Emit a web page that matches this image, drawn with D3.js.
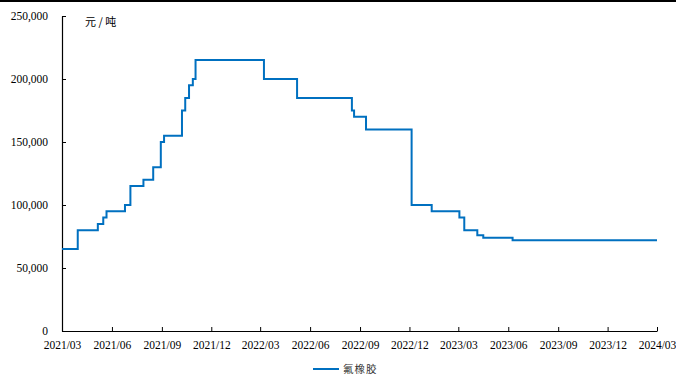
<!DOCTYPE html>
<html>
<head>
<meta charset="utf-8">
<script src="https://cdn.jsdelivr.net/npm/d3@7"></script>
<style>
  body { margin: 0; background: #fff; }
  svg { display: block; }
</style>
</head>
<body>
<svg id="chart" width="676" height="376"></svg>
<script>
// step dates where the price changes (yuan/ton)
const dates = [
  "2021-03-01", "2021-03-30", "2021-05-06", "2021-05-16", "2021-05-22",
  "2021-06-25", "2021-07-05", "2021-07-29", "2021-08-16", "2021-08-30",
  "2021-09-05", "2021-10-08", "2021-10-14", "2021-10-21", "2021-10-28",
  "2021-11-02", "2022-03-08", "2022-05-08", "2022-08-17", "2022-08-21",
  "2022-09-12", "2022-12-05", "2023-01-11", "2023-03-03", "2023-03-12",
  "2023-04-05", "2023-04-16", "2023-06-09", "2024-03-01"
]
const prices = [
  65000, 80000, 85000, 90000, 95000,
  100000, 115000, 120000, 130000, 150000,
  155000, 175000, 185000, 195000, 200000,
  215000, 200000, 185000, 175000, 170000,
  160000, 100000, 95000, 90000, 80000,
  76000, 74000, 72000, 72000
]
const xTicks = [
  "2021-03-01", "2021-06-01", "2021-09-01", "2021-12-01", "2022-03-01",
  "2022-06-01", "2022-09-01", "2022-12-01", "2023-03-01", "2023-06-01",
  "2023-09-01", "2023-12-01", "2024-03-01"
]
const yTicks = [0, 50000, 100000, 150000, 200000, 250000]
const seriesName = "氟橡胶"
const unitLabel = "元/吨"

const parse = d3.timeParse("%Y-%m-%d")
const data = dates.map((d, i) => ({date: parse(d), value: prices[i]}))

const svg = d3.select("#chart")
const serif = "'Liberation Serif', 'Times New Roman', serif"
const cjk = "'Noto Sans CJK SC', sans-serif"

// black rule across the top
svg.append("rect")
  .attr("x", 0).attr("y", 0)
  .attr("width", 676).attr("height", 2)
  .attr("fill", "#000")

const x = d3.scaleTime()
  .domain([parse("2021-03-01"), parse("2024-03-01")])
  .range([62, 657])

const y = d3.scaleLinear()
  .domain([0, 250000])
  .range([331, 16])

// y axis, ticks pointing inward
const yAxis = svg.append("g")
  .attr("transform", "translate(62,0)")
  .call(d3.axisLeft(y)
    .tickValues(yTicks)
    .tickSizeInner(-4)
    .tickSizeOuter(0)
    .tickPadding(14)
    .tickFormat(d3.format(",")))
yAxis.select(".domain").attr("stroke", "#000").attr("stroke-width", 1.2)
yAxis.selectAll(".tick line").attr("stroke", "#000")
yAxis.selectAll("text")
  .attr("font-family", serif)
  .attr("font-size", 11.5)
  .attr("fill", "#000")

// x axis
const xAxis = svg.append("g")
  .attr("transform", "translate(0,331)")
  .call(d3.axisBottom(x)
    .tickValues(xTicks.map(parse))
    .tickSizeInner(-4)
    .tickSizeOuter(0)
    .tickPadding(10)
    .tickFormat(d3.timeFormat("%Y/%m")))
xAxis.select(".domain").attr("stroke", "#000").attr("stroke-width", 1.2)
xAxis.selectAll(".tick line").attr("stroke", "#000")
xAxis.selectAll("text")
  .attr("font-family", serif)
  .attr("font-size", 11.5)
  .attr("fill", "#000")

// unit label
svg.append("text")
  .attr("x", 85).attr("y", 26)
  .attr("font-family", cjk)
  .attr("font-size", 11)
  .attr("letter-spacing", 2.5)
  .attr("fill", "#000")
  .text(unitLabel)

const line = d3.line()
  .x(d => x(d.date))
  .y(d => y(d.value))
  .curve(d3.curveStepAfter)

svg.append("path")
  .datum(data)
  .attr("fill", "none")
  .attr("stroke", "#0070C0")
  .attr("stroke-width", 2)
  .attr("d", line)

// legend
const legend = svg.append("g").attr("transform", "translate(313,369)")
legend.append("line")
  .attr("x1", 0).attr("x2", 26)
  .attr("y1", 0).attr("y2", 0)
  .attr("stroke", "#0070C0")
  .attr("stroke-width", 2)
legend.append("text")
  .attr("x", 30).attr("y", 4)
  .attr("font-family", cjk)
  .attr("font-size", 10.5)
  .attr("letter-spacing", 1)
  .attr("fill", "#333")
  .text(seriesName)
</script>
</body>
</html>
